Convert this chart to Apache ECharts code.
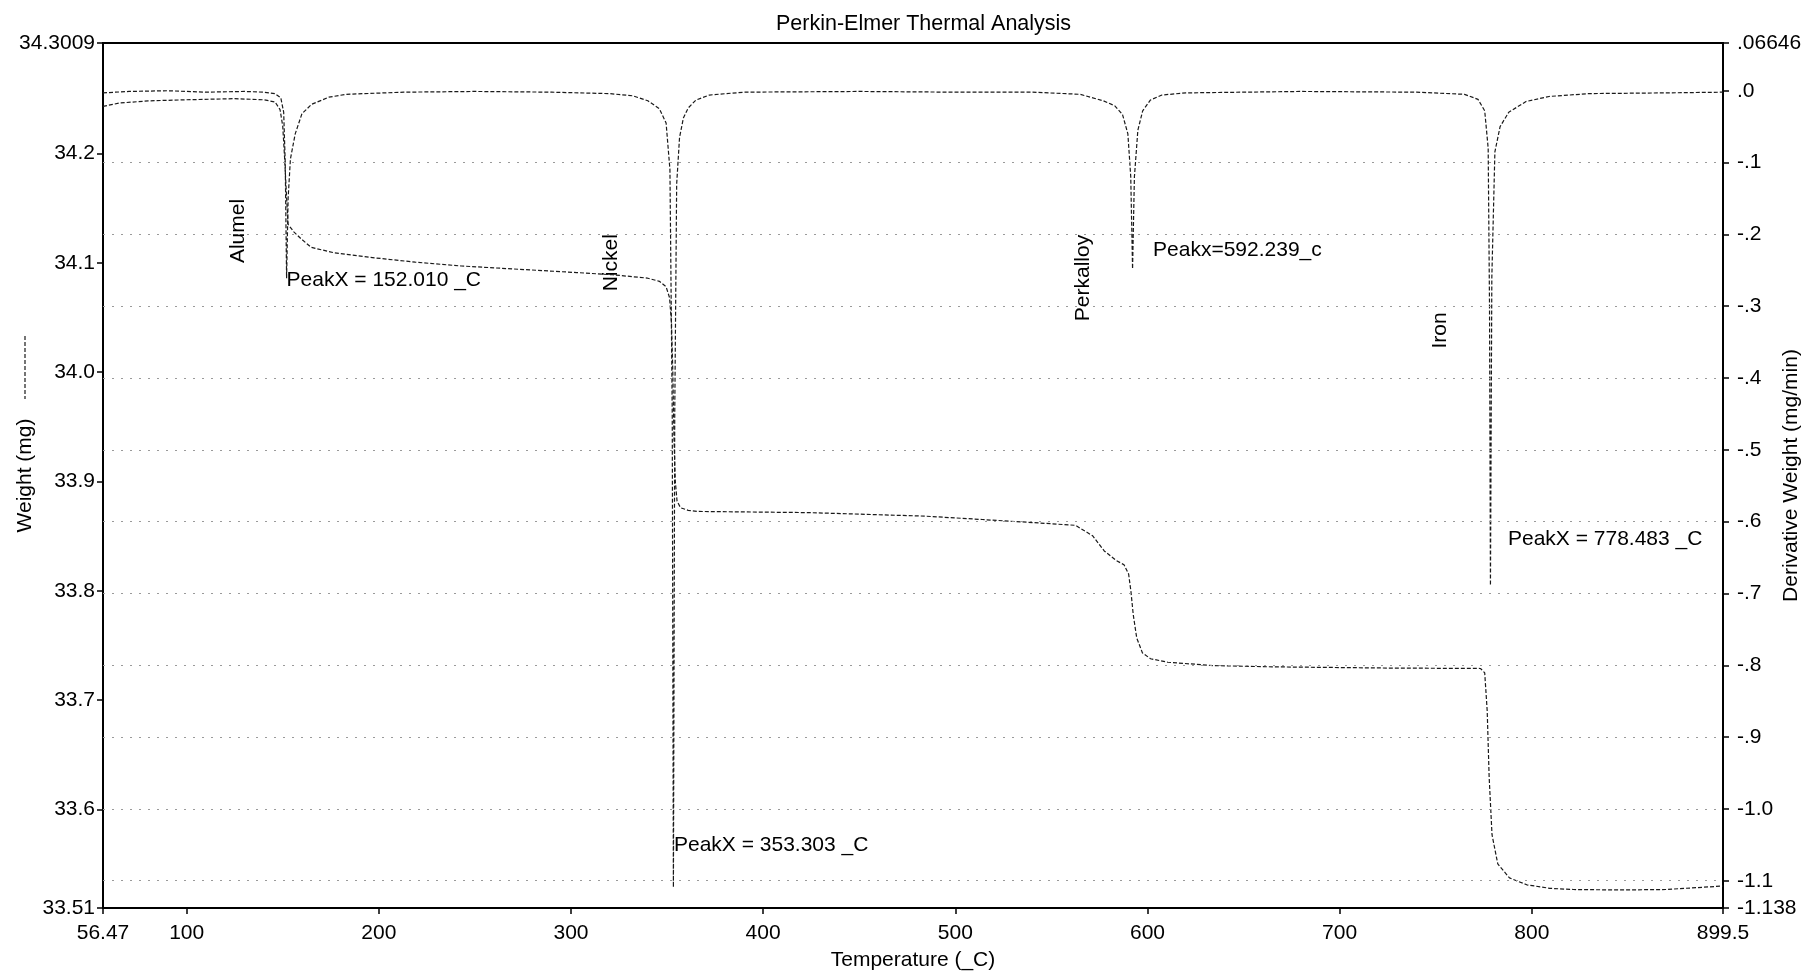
<!DOCTYPE html>
<html>
<head>
<meta charset="utf-8">
<title>Perkin-Elmer Thermal Analysis</title>
<script src="https://cdn.jsdelivr.net/npm/echarts@6/dist/echarts.min.js"></script>
<style>
  html, body { margin: 0; padding: 0; background: #fff; }
  #chart { width: 1815px; height: 975px; }
</style>
</head>
<body>
<div id="chart"></div>
<script>
// Temperature axis (°C)
const tempMin = 56.47;
const tempMax = 899.5;
const tempTicks = [56.47, 100, 200, 300, 400, 500, 600, 700, 800, 899.5];
const tempTickLabels = ['56.47', '100', '200', '300', '400', '500', '600', '700', '800', '899.5'];

// Weight axis (mg), left
const weightMin = 33.51;
const weightMax = 34.3009;
const weightTicks = [33.51, 33.6, 33.7, 33.8, 33.9, 34.0, 34.1, 34.2, 34.3009];
const weightTickLabels = ['33.51', '33.6', '33.7', '33.8', '33.9', '34.0', '34.1', '34.2', '34.3009'];

// Derivative weight axis (mg/min), right
const derivMin = -1.138;
const derivMax = 0.06646;
const derivTicks = [-1.138, -1.1, -1.0, -0.9, -0.8, -0.7, -0.6, -0.5, -0.4, -0.3, -0.2, -0.1, 0, 0.06646];
const derivTickLabels = ['-1.138', '-1.1', '-1.0', '-.9', '-.8', '-.7', '-.6', '-.5', '-.4', '-.3', '-.2', '-.1', '.0', '.06646'];
const derivGrid = [-0.1, -0.2, -0.3, -0.4, -0.5, -0.6, -0.7, -0.8, -0.9, -1.0, -1.1];

// TG curve: temperature (°C) and weight (mg)
const weightTemp = [56.47, 65, 80, 100, 125, 140, 146, 148.6, 150, 151, 152, 152.8, 155.9, 160.1, 164.9, 177, 195, 219, 243, 273, 303, 321.5, 339.6, 346, 349.5, 351.3, 352.3, 353.0, 353.6, 354.3, 355.2, 357, 361, 366, 424, 484, 514, 544, 562.5, 571.5, 577.5, 583.5, 587.8, 590.2, 591.4, 592.6, 594.4, 597.4, 601.6, 610.6, 634.8, 664.9, 725.1, 773.3, 775.5, 776.8, 777.8, 779.3, 782.3, 788.4, 797.4, 809.4, 821.5, 845.6, 869.7, 899.5];
const weightMg = [34.243, 34.246, 34.248, 34.249, 34.250, 34.249, 34.247, 34.240, 34.225, 34.195, 34.160, 34.135, 34.128, 34.121, 34.114, 34.109, 34.105, 34.1005, 34.097, 34.094, 34.091, 34.089, 34.086, 34.083, 34.078, 34.068, 34.045, 34.000, 33.940, 33.900, 33.882, 33.876, 33.8736, 33.8726, 33.8715, 33.8683, 33.8652, 33.8620, 33.8599, 33.8503, 33.8365, 33.8280, 33.8238, 33.8153, 33.7994, 33.7782, 33.7570, 33.7432, 33.7379, 33.7347, 33.7316, 33.7305, 33.7294, 33.7290, 33.7250, 33.6900, 33.6300, 33.5770, 33.5503, 33.5375, 33.5312, 33.5280, 33.5269, 33.5265, 33.5269, 33.5301];

// DTG curve: temperature (°C) and derivative weight (mg/min)
const dtgTemp = [56.47, 70, 90, 110, 130, 140, 146, 149, 150.5, 151.3, 152.01, 152.8, 154.0, 156.5, 160, 165, 174, 183, 213, 250, 290, 320, 332, 340, 346, 349.5, 351.5, 352.7, 353.303, 354.0, 355.0, 356.5, 358.5, 361, 365, 372, 390, 450, 500, 540, 565, 577, 583, 587, 589.8, 591.3, 592.239, 593.2, 595, 597.5, 601.5, 607.5, 620, 680, 740, 765, 772, 775.5, 777.3, 778.0, 778.483, 779.2, 780.8, 783.5, 788, 797, 809, 830, 870, 899.5];
const dtgRate = [-0.003, -0.001, 0.000, -0.002, -0.001, -0.002, -0.004, -0.010, -0.030, -0.100, -0.261, -0.150, -0.095, -0.060, -0.032, -0.019, -0.009, -0.005, -0.002, -0.001, -0.002, -0.004, -0.007, -0.014, -0.025, -0.045, -0.110, -0.450, -1.109, -0.450, -0.130, -0.065, -0.038, -0.024, -0.013, -0.006, -0.002, -0.001, -0.002, -0.002, -0.005, -0.014, -0.021, -0.033, -0.060, -0.120, -0.248, -0.120, -0.055, -0.028, -0.013, -0.006, -0.003, -0.001, -0.002, -0.005, -0.012, -0.028, -0.080, -0.300, -0.689, -0.260, -0.085, -0.050, -0.030, -0.015, -0.008, -0.004, -0.003, -0.002];

// Transition annotations, placed in (temperature, weight) coordinates
const standardNames = ['Alumel', 'Nickel', 'Perkalloy', 'Iron'];
const standardNameTemp = [126.7, 320.8, 566.5, 752.2];
const standardNameWeight = [34.129, 34.100, 34.086, 34.038];
const peakLabels = ['PeakX = 152.010 _C', 'PeakX = 353.303 _C', 'Peakx=592.239_c', 'PeakX = 778.483 _C'];
const peakLabelTemp = [152.01, 353.6, 602.9, 787.6];
const peakLabelWeight = [34.084, 33.567, 34.111, 33.847];

const FONT = '"Liberation Sans", Arial, sans-serif';
const zip = (a, b) => a.map((v, i) => [v, b[i]]);
const lookup = (vals, labels) => (v) => {
  let best = 0;
  vals.forEach((x, i) => { if (Math.abs(x - v) < Math.abs(vals[best] - v)) best = i; });
  return labels[best];
};

const chart = echarts.init(document.getElementById('chart'), null, { renderer: 'canvas' });

const curveStyle = { color: '#1a1a1a', width: 1.2, type: [4, 2] };
const labelStyle = { color: '#000', fontFamily: FONT, fontSize: 21 };
const nameStyle = { color: '#000', fontFamily: FONT, fontSize: 21 };

chart.setOption({
  animation: false,
  backgroundColor: '#fff',
  title: {
    text: 'Perkin-Elmer Thermal Analysis',
    left: 771,
    top: 8,
    textStyle: { color: '#000', fontFamily: FONT, fontSize: 21.5, fontWeight: 'normal' }
  },
  grid: {
    left: 103, right: 92, top: 43, bottom: 67,
    containLabel: false,
    outerBoundsMode: 'none',
    show: true, borderColor: '#000', borderWidth: 2, backgroundColor: 'transparent'
  },
  xAxis: {
    type: 'value',
    min: tempMin, max: tempMax,
    name: 'Temperature (_C)',
    nameLocation: 'middle',
    nameGap: 42,
    nameMoveOverlap: false,
    nameTextStyle: nameStyle,
    axisLine: { show: true, onZero: false, lineStyle: { color: '#000', width: 2 } },
    axisTick: { show: true, customValues: tempTicks, length: 6, lineStyle: { color: '#000', width: 1.5 } },
    axisLabel: Object.assign({ customValues: tempTicks, margin: 15, formatter: lookup(tempTicks, tempTickLabels) }, labelStyle),
    splitLine: { show: false }
  },
  yAxis: [
    {
      type: 'value',
      position: 'left',
      min: weightMin, max: weightMax,
      name: 'Weight (mg)',
      nameLocation: 'middle',
      nameRotate: 90,
      nameGap: 67,
      nameMoveOverlap: false,
      nameTextStyle: nameStyle,
      axisLine: { show: true, onZero: false, lineStyle: { color: '#000', width: 1.5 } },
      axisTick: { show: true, customValues: weightTicks, length: 6, lineStyle: { color: '#000', width: 1.5 } },
      axisLabel: Object.assign({ customValues: weightTicks, margin: 8, formatter: lookup(weightTicks, weightTickLabels) }, labelStyle),
      splitLine: { show: false }
    },
    {
      type: 'value',
      position: 'right',
      min: derivMin, max: derivMax,
      name: 'Derivative Weight (mg/min)',
      nameLocation: 'middle',
      nameRotate: 90,
      nameGap: 58,
      nameMoveOverlap: false,
      nameTextStyle: nameStyle,
      axisLine: { show: true, onZero: false, lineStyle: { color: '#000', width: 1.5 } },
      axisTick: { show: true, customValues: derivTicks, length: 6, lineStyle: { color: '#000', width: 1.5 } },
      axisLabel: Object.assign({ customValues: derivTicks, margin: 14, formatter: lookup(derivTicks, derivTickLabels) }, labelStyle),
      splitLine: { show: false }
    }
  ],
  series: [
    {
      name: 'Weight',
      type: 'line',
      xAxisIndex: 0, yAxisIndex: 0,
      data: zip(weightTemp, weightMg),
      showSymbol: false,
      lineStyle: curveStyle,
      z: 3
    },
    {
      name: 'Derivative Weight',
      type: 'line',
      xAxisIndex: 0, yAxisIndex: 1,
      data: zip(dtgTemp, dtgRate),
      showSymbol: false,
      lineStyle: curveStyle,
      z: 3,
      markLine: {
        silent: true,
        symbol: 'none',
        label: { show: false },
        lineStyle: { color: '#9a9a9a', width: 1, type: [2, 7] },
        data: derivGrid.map(v => ({ yAxis: v }))
      }
    }
  ]
});

// Annotation texts and the weight-curve key beside the left axis title
const graphics = [];
standardNames.forEach((txt, i) => {
  const p = chart.convertToPixel({ xAxisIndex: 0, yAxisIndex: 0 }, [standardNameTemp[i], standardNameWeight[i]]);
  graphics.push({
    type: 'text', x: p[0], y: p[1], rotation: Math.PI / 2,
    style: { text: txt, fill: '#000', font: '21px ' + FONT, align: 'center', verticalAlign: 'middle' }
  });
});
peakLabels.forEach((txt, i) => {
  const p = chart.convertToPixel({ xAxisIndex: 0, yAxisIndex: 0 }, [peakLabelTemp[i], peakLabelWeight[i]]);
  graphics.push({
    type: 'text', x: p[0], y: p[1],
    style: { text: txt, fill: '#000', font: '21px ' + FONT, align: 'left', verticalAlign: 'middle' }
  });
});
graphics.push({
  type: 'line',
  shape: { x1: 25, y1: 336, x2: 25, y2: 399 },
  style: { stroke: '#1a1a1a', lineWidth: 1.2, lineDash: [4, 2] }
});
chart.setOption({ graphic: graphics });
</script>
</body>
</html>
